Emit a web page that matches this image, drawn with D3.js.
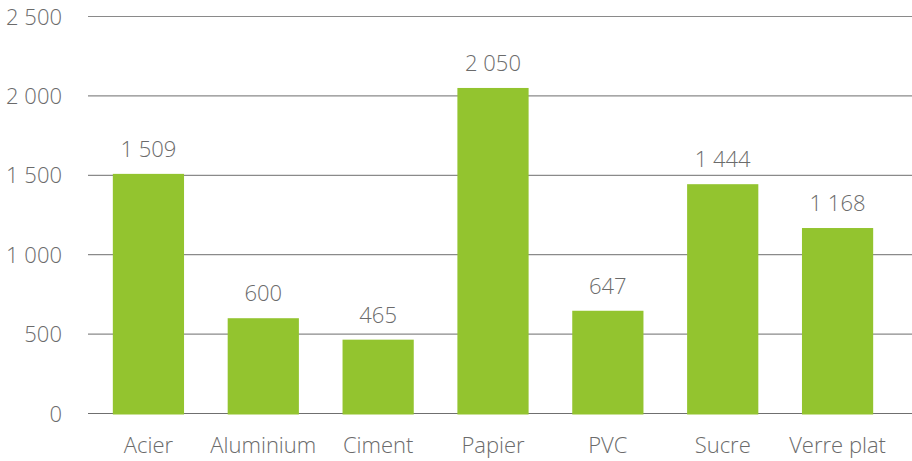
<!DOCTYPE html>
<html><head><meta charset="utf-8">
<script src="https://cdn.jsdelivr.net/npm/d3@7"></script>
<style>
body{margin:0;background:#fff;}
text{font-family:"Open Sans",sans-serif;font-weight:300;fill:#6b6b6b;}
</style></head>
<body><svg id="c" width="912" height="461"></svg>
<script>
const categories = ["Acier","Aluminium","Ciment","Papier","PVC","Sucre","Verre plat"];
const values = [1509,600,465,2050,647,1444,1168];
const yTicks = [0,500,1000,1500,2000,2500];
const fmt = v => d3.format(",")(v).replace(/,/g," ");

const svg = d3.select("#c");
const x = d3.scaleBand().domain(categories).range([91,895]).paddingInner(0.38).paddingOuter(0.19);
const y = d3.scaleLinear().domain([0,2500]).range([413.5,16.5]);

svg.append("g").selectAll("line").data(yTicks).join("line")
  .attr("x1",88).attr("x2",912)
  .attr("y1",d=>y(d)).attr("y2",d=>y(d))
  .attr("stroke",d=>d===0?"#6f6f6f":"#8a8a8a").attr("stroke-width",1.2);

svg.append("g").selectAll("text").data(yTicks).join("text")
  .attr("x",62).attr("y",d=>y(d)+8).attr("text-anchor","end")
  .attr("font-size",22).text(fmt);

svg.append("g").selectAll("rect").data(values).join("rect")
  .attr("x",(d,i)=>x(categories[i])).attr("width",x.bandwidth())
  .attr("y",d=>y(d)).attr("height",d=>y(0)-y(d)+1)
  .attr("fill","#93c42f");

svg.append("g").selectAll("text").data(values).join("text")
  .attr("x",(d,i)=>x(categories[i])+x.bandwidth()/2).attr("y",d=>y(d)-17)
  .attr("text-anchor","middle").attr("font-size",22).text(fmt);

svg.append("g").selectAll("text").data(categories).join("text")
  .attr("x",d=>x(d)+x.bandwidth()/2).attr("y",453)
  .attr("text-anchor","middle").attr("font-size",22).text(d=>d);
</script></body></html>
